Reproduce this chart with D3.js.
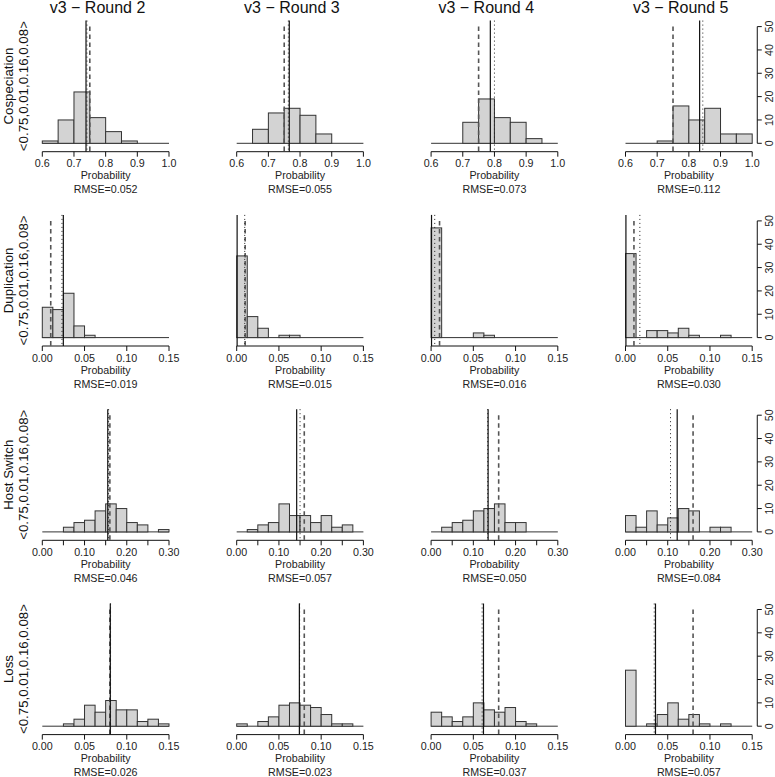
<!DOCTYPE html>
<html>
<head>
<meta charset="utf-8">
<script src="https://cdn.jsdelivr.net/npm/d3@7"></script>
<style>
  html, body { margin: 0; padding: 0; background: #fff; }
  svg { display: block; font-family: "Liberation Sans", Arial, Helvetica, sans-serif; }
</style>
</head>
<body>
<svg id="chart" width="775" height="777"></svg>
<script>
// ---------------- DATA ----------------
const roundTitles = ["v3 \u2212 Round 2", "v3 \u2212 Round 3", "v3 \u2212 Round 4", "v3 \u2212 Round 5"];
const eventNames = ["Cospeciation", "Duplication", "Host Switch", "Loss"];
const paramLabel = "<0.75,0.01,0.16,0.08>";
const xDomains = [[0.6, 1.0], [0, 0.15], [0, 0.30], [0, 0.15]];
const binWidths = [0.05, 0.0125, 0.025, 0.0125];
const xTicks = [
  [0.6, 0.7, 0.8, 0.9, 1.0],
  [0, 0.05, 0.10, 0.15],
  [0, 0.05, 0.10, 0.15, 0.20, 0.25, 0.30],
  [0, 0.05, 0.10, 0.15]
];
const xTickLabels = [
  ["0.6", "0.7", "0.8", "0.9", "1.0"],
  ["0.00", "0.05", "0.10", "0.15"],
  ["0.00", "", "0.10", "", "0.20", "", "0.30"],
  ["0.00", "0.05", "0.10", "0.15"]
];
const countTicks = [0, 10, 20, 30, 40, 50];

const cospeciationCounts = [
  [1, 10, 22, 11, 5, 1, 0, 0],
  [0, 6, 13, 15, 12, 4, 0, 0],
  [0, 0, 9, 19, 11, 9, 2, 0],
  [0, 0, 1, 16, 10, 15, 4, 4]
];
const duplicationCounts = [
  [13, 12, 19, 5, 1, 0, 0, 0, 0, 0, 0, 0],
  [35, 9, 4, 0, 1, 1, 0, 0, 0, 0, 0, 0],
  [47, 0, 0, 0, 2, 1, 0, 0, 0, 0, 0, 0],
  [36, 0, 3, 3, 2, 4, 1, 0, 0, 1, 0, 0]
];
const hostSwitchCounts = [
  [0, 0, 2, 4, 5, 9, 12, 10, 4, 3, 0, 1],
  [0, 1, 3, 4, 12, 7, 7, 4, 7, 2, 3, 0],
  [0, 2, 4, 5, 9, 10, 12, 4, 4, 0, 0, 0],
  [7, 2, 9, 3, 6, 10, 9, 0, 2, 2, 0, 0]
];
const lossCounts = [
  [0, 0, 1, 3, 9, 6, 11, 7, 7, 2, 3, 1],
  [1, 0, 2, 4, 9, 10, 9, 8, 5, 1, 1, 0],
  [6, 4, 2, 4, 10, 7, 6, 8, 2, 1, 0, 0],
  [24, 0, 1, 5, 10, 3, 5, 1, 0, 1, 0, 0]
];
const allCounts = [cospeciationCounts, duplicationCounts, hostSwitchCounts, lossCounts];

const trueValues = [0.75, 0.01, 0.16, 0.08];               // dashed lines
const estimateLines = [                                      // solid lines
  [0.738, 0.766, 0.787, 0.834],
  [0.0249, 0.0005, 0.0005, 0.0005],
  [0.155, 0.142, 0.135, 0.1224],
  [0.0805, 0.0742, 0.062, 0.0355]
];
const dottedLines = [                                        // dotted lines
  [0.741, 0.763, 0.800, 0.844],
  [0.0233, 0.0095, 0.0043, 0.017],
  [0.157, 0.150, 0.134, 0.1066],
  [0.0808, 0.0745, 0.0604, 0.034]
];
const rmseValues = [
  ["0.052", "0.055", "0.073", "0.112"],
  ["0.019", "0.015", "0.016", "0.030"],
  ["0.046", "0.057", "0.050", "0.084"],
  ["0.026", "0.023", "0.037", "0.057"]
];

// ---------------- LAYOUT ----------------
const colStep = 194.4, rowStep = 194.3;
const x0First = 42.3, plotW = 126.7;
const base0 = 143.3, countSpan = 116.7;   // px for 50 counts
const fontSmall = 10.7, fontLabel = 13.3, fontTitle = 16;

const svg = d3.select("#chart");

for (let r = 0; r < 4; r++) {
  const base = base0 + r * rowStep;
  const y = d3.scaleLinear().domain([0, 50]).range([base, base - countSpan]);
  const axisY = base + 8.4;
  const vTop = y(50) - 6;

  // left labels
  const midY = (vTop + axisY) / 2;
  svg.append("text")
    .attr("transform", `translate(8.5,${midY}) rotate(-90)`)
    .attr("text-anchor", "middle").attr("dominant-baseline", "central")
    .attr("font-size", fontLabel).attr("fill", "#111")
    .text(eventNames[r]);
  svg.append("text")
    .attr("transform", `translate(23.5,${midY}) rotate(-90)`)
    .attr("text-anchor", "middle").attr("dominant-baseline", "central")
    .attr("font-size", fontLabel).attr("fill", "#111")
    .text(paramLabel);

  for (let c = 0; c < 4; c++) {
    const x0 = x0First + c * colStep;
    const x = d3.scaleLinear().domain(xDomains[r]).range([x0, x0 + plotW]);
    const g = svg.append("g");
    const counts = allCounts[r][c];
    const bw = binWidths[r];
    const bins = counts.map((n, i) => ({ lo: xDomains[r][0] + i * bw, hi: xDomains[r][0] + (i + 1) * bw, n }));

    // zero baseline (empty bins drawn flat)
    g.append("line")
      .attr("x1", x(xDomains[r][0])).attr("x2", x(xDomains[r][1]))
      .attr("y1", y(0)).attr("y2", y(0))
      .attr("stroke", "#333").attr("stroke-width", 1);

    // bars
    g.selectAll("rect.bar").data(bins.filter(b => b.n > 0)).join("rect")
      .attr("class", "bar")
      .attr("x", b => x(b.lo)).attr("width", b => x(b.hi) - x(b.lo))
      .attr("y", b => y(b.n)).attr("height", b => y(0) - y(b.n))
      .attr("fill", "#d3d3d3").attr("stroke", "#333").attr("stroke-width", 1);

    // vertical reference lines
    g.append("line")
      .attr("x1", x(trueValues[r])).attr("x2", x(trueValues[r]))
      .attr("y1", vTop + 6).attr("y2", axisY)
      .attr("stroke", "#555").attr("stroke-width", 1.6).attr("stroke-dasharray", "4.5,3.5");
    g.append("line")
      .attr("x1", x(dottedLines[r][c])).attr("x2", x(dottedLines[r][c]))
      .attr("y1", vTop).attr("y2", axisY)
      .attr("stroke", "#222").attr("stroke-width", 1).attr("stroke-dasharray", "1,3");
    g.append("line")
      .attr("x1", x(estimateLines[r][c])).attr("x2", x(estimateLines[r][c]))
      .attr("y1", vTop).attr("y2", axisY)
      .attr("stroke", "#111").attr("stroke-width", 1.2);

    // x axis
    const ticks = xTicks[r];
    g.append("line")
      .attr("x1", x(ticks[0])).attr("x2", x(ticks[ticks.length - 1]))
      .attr("y1", axisY).attr("y2", axisY)
      .attr("stroke", "#111").attr("stroke-width", 1);
    ticks.forEach((t, i) => {
      g.append("line")
        .attr("x1", x(t)).attr("x2", x(t))
        .attr("y1", axisY).attr("y2", axisY + 5)
        .attr("stroke", "#111").attr("stroke-width", 1);
      if (xTickLabels[r][i]) {
        g.append("text")
          .attr("x", x(t)).attr("y", base + 20)
          .attr("text-anchor", "middle").attr("dominant-baseline", "central")
          .attr("font-size", fontSmall).attr("fill", "#222")
          .text(xTickLabels[r][i]);
      }
    });
    g.append("text")
      .attr("x", x0 + plotW / 2).attr("y", base + 32)
      .attr("text-anchor", "middle").attr("dominant-baseline", "central")
      .attr("font-size", fontSmall).attr("fill", "#222")
      .text("Probability");
    g.append("text")
      .attr("x", x0 + plotW / 2).attr("y", base + 46)
      .attr("text-anchor", "middle").attr("dominant-baseline", "central")
      .attr("font-size", fontSmall).attr("fill", "#222")
      .text("RMSE=" + rmseValues[r][c]);

    // titles (top row)
    if (r === 0) {
      svg.append("text")
        .attr("x", c * colStep + 97.5).attr("y", 13)
        .attr("text-anchor", "middle")
        .attr("font-size", fontTitle).attr("fill", "#111")
        .text(roundTitles[c]);
    }

    // right count axis (last column)
    if (c === 3) {
      const ax = x0 + plotW + 0.04 * plotW;
      g.append("line")
        .attr("x1", ax).attr("x2", ax).attr("y1", y(0)).attr("y2", y(50))
        .attr("stroke", "#111").attr("stroke-width", 1);
      countTicks.forEach(t => {
        g.append("line")
          .attr("x1", ax).attr("x2", ax + 4.5).attr("y1", y(t)).attr("y2", y(t))
          .attr("stroke", "#111").attr("stroke-width", 1);
        g.append("text")
          .attr("transform", `translate(${ax + 11.5},${y(t)}) rotate(-90)`)
          .attr("text-anchor", "middle").attr("dominant-baseline", "central")
          .attr("font-size", fontSmall).attr("fill", "#222")
          .text(t);
      });
    }
  }
}
</script>
</body>
</html>
